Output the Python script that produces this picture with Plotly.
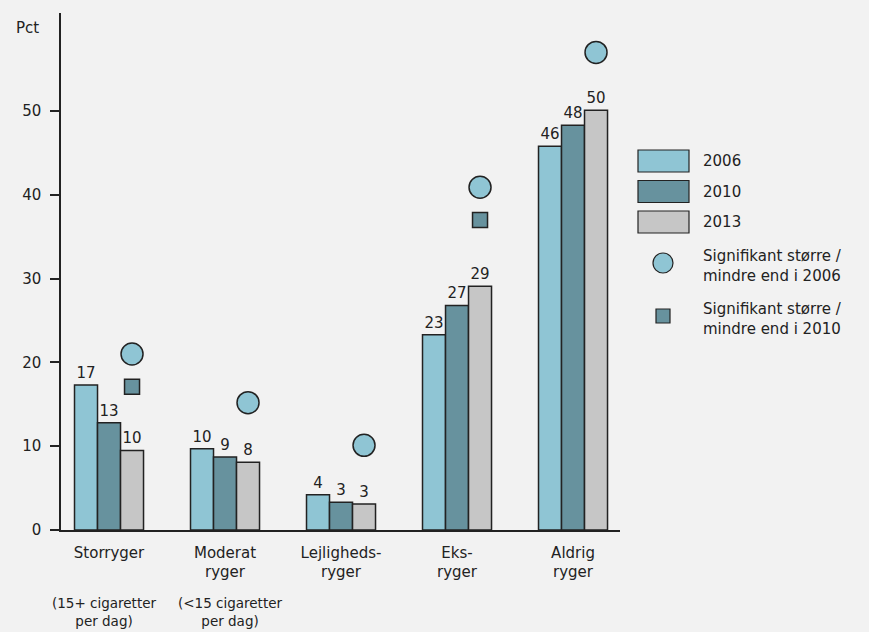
import plotly.graph_objects as go

# ---------------------------- data --------------------------------
categories = ["Storryger", "Moderat<br>ryger", "Lejligheds-<br>ryger", "Eks-<br>ryger", "Aldrig<br>ryger"]
years = ["2006", "2010", "2013"]
values_2006 = [17.3, 9.7, 4.2, 23.3, 45.8]
values_2010 = [12.8, 8.7, 3.3, 26.8, 48.3]
values_2013 = [9.5, 8.1, 3.1, 29.1, 50.1]
labels_2006 = ["17", "10", "4", "23", "46"]
labels_2010 = ["13", "9", "3", "27", "48"]
labels_2013 = ["10", "8", "3", "29", "50"]

# significance markers (placed over the 2013 bar)
sig_2006 = [21.0, 15.2, 10.1, 40.9, 57.0]
sig_2010 = [17.1, None, None, 37.0, None]

sub_labels = ["(15+ cigaretter<br>per dag)", "(<15 cigaretter<br>per dag)"]

colors = ["#8FC5D4", "#67929E", "#C6C6C6"]
ink = "#222222"
bg = "#F2F2F2"
font = "DejaVu Sans"

# ---------------------------- geometry ----------------------------
L, R, T, B = 61, 620, 13, 530
W, H = 869, 632


def px(x):
    return (x - L) / (R - L)


def py(y):
    return (B - y) / (B - T)


fig = go.Figure()

xs = list(range(len(categories)))
for vals, labs, name, col in zip([values_2006, values_2010, values_2013],
                                 [labels_2006, labels_2010, labels_2013], years, colors):
    fig.add_trace(go.Bar(x=xs, y=vals, name=name, text=labs, textposition="outside",
                         textfont=dict(color=ink, size=15, family=font),
                         cliponaxis=False,
                         marker=dict(color=col, line=dict(color=ink, width=1.5)),
                         showlegend=False))

# markers sit over the third bar of each group
offset = 0.595 / 3
fig.add_trace(go.Scatter(x=[i + offset for i in xs], y=sig_2006, mode="markers",
                         marker=dict(symbol="circle", size=22, color=colors[0],
                                     line=dict(color=ink, width=1.5)),
                         showlegend=False, cliponaxis=False))
fig.add_trace(go.Scatter(x=[i + offset for i in xs], y=sig_2010, mode="markers",
                         marker=dict(symbol="square", size=15, color=colors[1],
                                     line=dict(color=ink, width=1.5)),
                         showlegend=False, cliponaxis=False))

# ---------------------------- legend (drawn by hand) --------------
shapes = []
annotations = []
for i, (name, col) in enumerate(zip(years, colors)):
    top = 150 + i * 30.5
    shapes.append(dict(type="rect", xref="paper", yref="paper",
                       x0=px(638), x1=px(689), y0=py(top + 22), y1=py(top),
                       fillcolor=col, line=dict(color=ink, width=1.2)))
    annotations.append(dict(xref="paper", yref="paper", x=px(701), y=py(top + 11),
                            text=name, showarrow=False, xanchor="left", yanchor="middle",
                            font=dict(size=15, color=ink, family=font)))

shapes.append(dict(type="circle", xref="paper", yref="paper",
                   x0=px(653), x1=px(673), y0=py(273), y1=py(253),
                   fillcolor=colors[0], line=dict(color=ink, width=1.2)))
shapes.append(dict(type="rect", xref="paper", yref="paper",
                   x0=px(656), x1=px(670), y0=py(323), y1=py(309),
                   fillcolor=colors[1], line=dict(color=ink, width=1.2)))
for yy, txt in [(266, "Signifikant større /<br>mindre end i 2006"),
                (319, "Signifikant større /<br>mindre end i 2010")]:
    annotations.append(dict(xref="paper", yref="paper", x=px(701), y=py(yy),
                            text=txt, showarrow=False, xanchor="left", yanchor="middle",
                            align="left", font=dict(size=15, color=ink, family=font)))

# axis title and sub labels
annotations.append(dict(xref="paper", yref="paper", x=px(41), y=py(28),
                        text="Pct", showarrow=False, xanchor="right", yanchor="middle",
                        font=dict(size=15, color=ink, family=font)))
for cx, txt in zip([104, 230], sub_labels):
    annotations.append(dict(xref="paper", yref="paper", x=px(cx), y=py(612),
                            text=txt, showarrow=False, xanchor="center", yanchor="middle",
                            font=dict(size=13.5, color=ink, family=font)))

fig.update_layout(
    width=W, height=H,
    margin=dict(l=L, r=W - R, t=T, b=H - B),
    paper_bgcolor=bg, plot_bgcolor=bg,
    barmode="group", bargap=0.405, bargroupgap=0,
    font=dict(family=font, size=15, color=ink),
    shapes=shapes, annotations=annotations,
    xaxis=dict(range=[-0.414, 4.405], tickmode="array", tickvals=xs, ticktext=categories,
               showline=True, linecolor=ink, linewidth=1.5, ticks="", showgrid=False,
               zeroline=False, tickfont=dict(size=15, color=ink), ticklabelstandoff=8),
    yaxis=dict(range=[0, 61.7], tickvals=[0, 10, 20, 30, 40, 50], showline=True,
               linecolor=ink, linewidth=1.5, ticks="outside", ticklen=9, tickwidth=1.5,
               tickcolor=ink, showgrid=False, zeroline=False,
               tickfont=dict(size=15, color=ink), ticklabelstandoff=6),
)

fig.write_html("out.html", config={"displayModeBar": False},
               post_script="document.body.style.margin='0';")
